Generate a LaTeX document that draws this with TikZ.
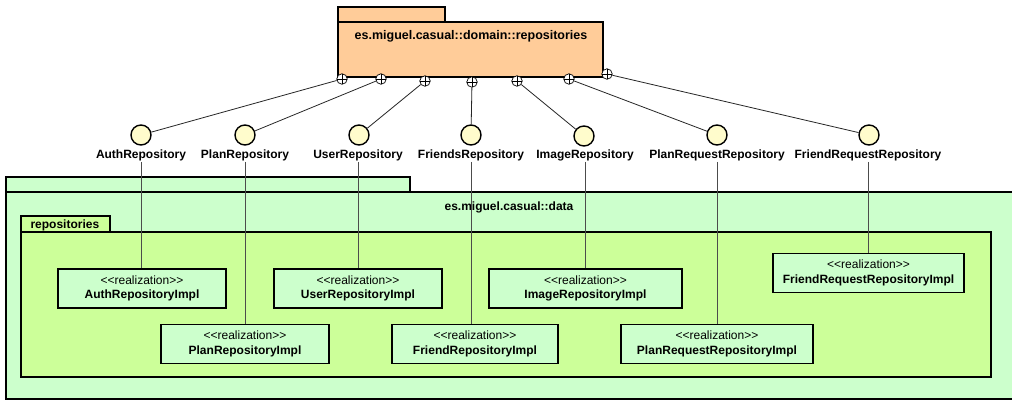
\documentclass[tikz,border=0pt]{standalone}
\usepackage{fontspec}
\setmainfont{Liberation Sans}
\newcommand{\stereo}[1]{{<}{<}#1{>}{>}}
\begin{document}
\begin{tikzpicture}[x=1pt,y=-1pt,
  pkgline/.style={draw=black,line width=1.8pt},
  ifacecircle/.style={circle,draw=black,line width=1.4pt,fill=yellow!20,minimum size=20pt,inner sep=0pt},
  ifacelabel/.style={font=\fontsize{12}{13}\selectfont\bfseries,inner sep=1pt},
  pluscircle/.style={circle,draw=black,line width=0.7pt,fill=white,minimum size=10.5pt,inner sep=0pt,
    path picture={\draw[line width=0.7pt] (path picture bounding box.north) -- (path picture bounding box.south)
      (path picture bounding box.west) -- (path picture bounding box.east);}},
  implbox/.style={draw=black,line width=1.6pt,fill=green!20,minimum height=39pt,inner sep=0pt,align=center,
    font=\fontsize{12}{14.5}\selectfont},
  nestline/.style={draw=black!85,line width=0.8pt},
  realline/.style={draw=black!70,line width=0.8pt}
]
\useasboundingbox (0,0) rectangle (1012,400);
\clip (0,0) rectangle (1012,400);
\fill[white] (0,0) rectangle (1012,400);

% package es.miguel.casual::data
\path[pkgline,fill={rgb,255:red,204;green,255;blue,204}] (6,177) rectangle (410,192);
\path[pkgline,fill={rgb,255:red,204;green,255;blue,204}] (6,192) rectangle (1018,399);
\node[font=\fontsize{12}{13}\selectfont\bfseries] (datatitle) at (509,207) {es.miguel.casual::data};

% nested package repositories
\path[pkgline,fill={rgb,255:red,204;green,255;blue,153}] (21,216) rectangle (110,232);
\node[font=\fontsize{12}{13}\selectfont\bfseries,anchor=west] (reptitle) at (27,225) {repositories};
\path[pkgline,fill={rgb,255:red,204;green,255;blue,153}] (21,232) rectangle (991,377);

% package es.miguel.casual::domain::repositories
\path[pkgline,fill={rgb,255:red,255;green,204;blue,153}] (338,7) rectangle (445,22);
\path[pkgline,fill={rgb,255:red,255;green,204;blue,153}] (338,22) rectangle (603,77);
\node[font=\fontsize{12.5}{13}\selectfont\bfseries] (domtitle) at (471,36) {es.miguel.casual::domain::repositories};

% nesting markers on the domain package
\node[pluscircle] (m1) at (342,79) {};
\node[pluscircle] (m2) at (381,79) {};
\node[pluscircle] (m3) at (425,81) {};
\node[pluscircle] (m4) at (472,82) {};
\node[pluscircle] (m5) at (517,81) {};
\node[pluscircle] (m6) at (569,79) {};
\node[pluscircle] (m7) at (607,74) {};

% interfaces
\node[ifacecircle] (i1) at (141,135) {};
\node[ifacecircle] (i2) at (245,135) {};
\node[ifacecircle] (i3) at (359,135) {};
\node[ifacecircle] (i4) at (471,135) {};
\node[ifacecircle] (i5) at (584,136) {};
\node[ifacecircle] (i6) at (717,135) {};
\node[ifacecircle] (i7) at (869,135) {};

\node[ifacelabel] (l1) at (141,155) {AuthRepository};
\node[ifacelabel] (l2) at (245,155) {PlanRepository};
\node[ifacelabel] (l3) at (358,155) {UserRepository};
\node[ifacelabel] (l4) at (471,155) {FriendsRepository};
\node[ifacelabel] (l5) at (585,155) {ImageRepository};
\node[ifacelabel] (l6) at (717,155) {PlanRequestRepository};
\node[ifacelabel] (l7) at (868,155) {FriendRequestRepository};

% implementations
\node[implbox,minimum width=168pt] (b1) at (142,288.5) {\stereo{realization}\\\textbf{AuthRepositoryImpl}};
\node[implbox,minimum width=168pt] (b2) at (245,344) {\stereo{realization}\\\textbf{PlanRepositoryImpl}};
\node[implbox,minimum width=168pt] (b3) at (358,288.5) {\stereo{realization}\\\textbf{UserRepositoryImpl}};
\node[implbox,minimum width=166pt] (b4) at (475,344) {\stereo{realization}\\\textbf{FriendRepositoryImpl}};
\node[implbox,minimum width=193pt] (b5) at (585.5,288.5) {\stereo{realization}\\\textbf{ImageRepositoryImpl}};
\node[implbox,minimum width=192pt] (b6) at (717,344) {\stereo{realization}\\\textbf{PlanRequestRepositoryImpl}};
\node[implbox,minimum width=191pt] (b7) at (868.5,273) {\stereo{realization}\\\textbf{FriendRequestRepositoryImpl}};

% containment connectors
\foreach \k in {1,...,7} {
  \draw[nestline] (m\k) -- (i\k);
}

% realization connectors
\foreach \k in {1,...,7} {
  \draw[realline] (l\k.south) -- (l\k.south |- b\k.north);
}
\end{tikzpicture}
\end{document}
